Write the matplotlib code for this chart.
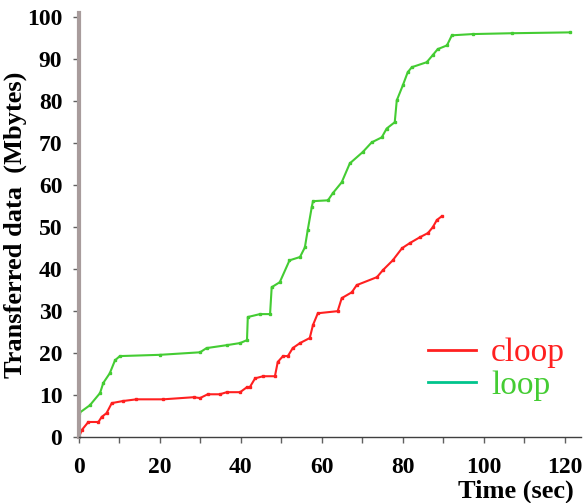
import matplotlib.pyplot as plt
from matplotlib.lines import Line2D

# cloop transfer (sec, Mbytes)
cloop_t = [0, 0.7, 2.3, 4.8, 5.6, 6.8, 8.1, 10.9, 14.2, 20.8, 28.3, 29.9, 31.8,
           34.8, 36.5, 39.8, 41.5, 42.2, 43.5, 45.5, 48.4, 49.1, 50.4, 51.6,
           52.8, 54.6, 57.0, 57.8, 59.0, 63.9, 64.9, 67.4, 68.6, 73.6, 75.1,
           77.5, 79.8, 81.7, 84.2, 86.2, 87.4, 88.4, 89.6]
cloop_y = [0, 1.7, 3.6, 3.6, 4.8, 5.7, 8.1, 8.6, 9.0, 9.0, 9.5, 9.3, 10.2,
           10.2, 10.7, 10.7, 11.9, 11.9, 14.0, 14.5, 14.5, 17.9, 19.3, 19.3,
           21.2, 22.4, 23.6, 26.7, 29.5, 30.0, 33.1, 34.5, 36.2, 38.1, 39.8,
           42.1, 45.0, 46.2, 47.6, 48.6, 50.0, 51.7, 52.6]

# loop transfer (sec, Mbytes)
loop_t = [0, 2.7, 5.2, 6.0, 7.6, 8.9, 10.1, 20.0, 29.9, 31.5, 36.5, 39.8, 41.5,
          41.7, 44.7, 47.2, 47.6, 49.6, 52.0, 54.6, 55.8, 56.5, 57.5, 57.8,
          61.5, 62.7, 64.9, 66.9, 70.1, 72.3, 74.8, 76.0, 78.0, 78.5, 80.0,
          81.2, 82.2, 85.9, 87.4, 88.6, 90.9, 92.1, 97.3, 107.0, 121.2]
loop_y = [5.7, 7.6, 10.5, 12.9, 15.2, 18.3, 19.3, 19.6, 20.2, 21.2, 21.9, 22.4,
          23.1, 28.6, 29.3, 29.3, 35.7, 36.9, 42.1, 42.9, 45.2, 49.3, 54.8,
          56.2, 56.4, 58.1, 60.7, 65.2, 67.9, 70.2, 71.4, 73.5, 75.0, 80.2,
          83.8, 86.9, 88.1, 89.3, 91.0, 92.4, 93.3, 95.7, 96.0, 96.2, 96.4]

labels = ['cloop', 'loop']
line_colors = ['#ff2020', '#44cc33']
legend_colors = ['#ff2020', '#00c48c']

fig = plt.figure(figsize=(5.83, 5.03), dpi=100)
ax = fig.add_axes([0.1355, 0.131, 0.861, 0.843])

ax.plot(cloop_t, cloop_y, color=line_colors[0], lw=1.5, marker='s', ms=2)
ax.plot(loop_t, loop_y, color=line_colors[1], lw=1.5, marker='s', ms=2)

ax.set_xlim(0, 124)
ax.set_ylim(0, 101)
ax.set_xticks(range(0, 121, 20))
ax.set_xticks(range(0, 121, 10), minor=True)
ax.set_yticks(range(0, 101, 10))

for s in ['top', 'right']:
    ax.spines[s].set_visible(False)
ax.spines['left'].set_color('#a89c9c')
ax.spines['left'].set_linewidth(3)
ax.spines['bottom'].set_color('#404040')
ax.spines['bottom'].set_linewidth(1)

ax.tick_params(axis='both', which='both', direction='out', length=4,
               color='#606060', width=1)
ax.tick_params(axis='x', pad=10)
ax.tick_params(axis='y', pad=8)
for lab in ax.get_xticklabels() + ax.get_yticklabels():
    lab.set_family('Liberation Serif')
    lab.set_fontweight('bold')
    lab.set_fontsize(17)

ax.set_ylabel('Transferred data  (Mbytes)', family='Liberation Serif',
              fontweight='bold', fontsize=19, labelpad=0)
ax.set_xlabel('Time (sec)', family='Liberation Serif', fontweight='bold',
              fontsize=19)
ax.xaxis.set_label_coords(0.87, -0.1)

handles = [Line2D([], [], color=c, lw=2) for c in legend_colors]
leg = ax.legend(handles, labels, loc='center left', bbox_to_anchor=(0.635, 0.16),
                frameon=False, handlelength=1.45, handletextpad=0.45,
                labelspacing=0.05,
                prop={'family': 'Liberation Serif', 'size': 24})
for t, c in zip(leg.get_texts(), line_colors):
    t.set_color(c)

fig.savefig('out.png', dpi=100)
